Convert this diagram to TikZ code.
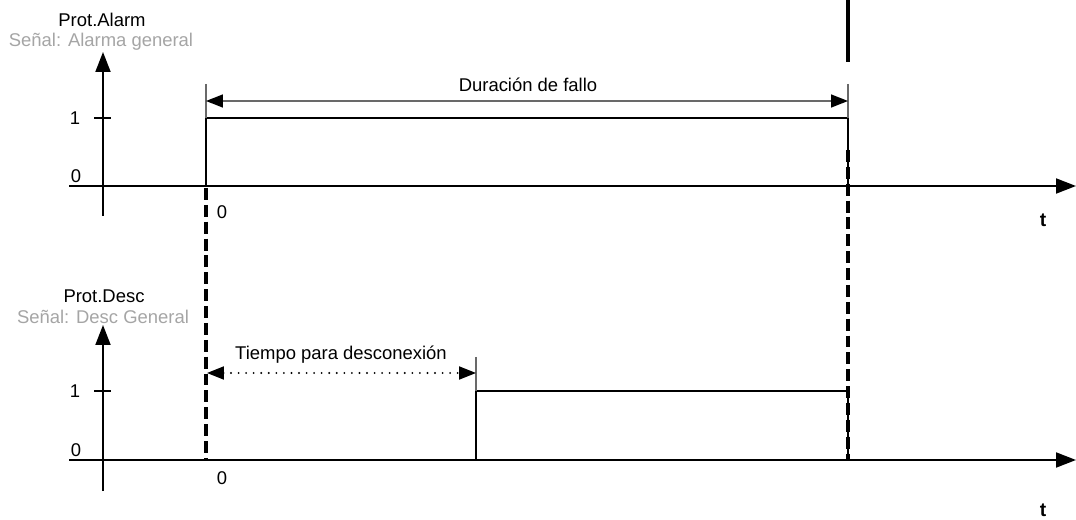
\documentclass[tikz,border=0pt]{standalone}
\usepackage{fontspec}
\setmainfont{Liberation Sans}
\usetikzlibrary{arrows.meta}
\definecolor{subgray}{RGB}{165,165,165}
\definecolor{dimgray}{RGB}{105,105,105}
\tikzset{
  axis/.style={black, line width=1.1pt, -{Triangle[length=4mm,width=3mm]}},
  signal/.style={black, line width=1.1pt},
  tickmark/.style={black, line width=1.1pt},
  marker/.style={black, line width=2pt, dash pattern=on 6.8pt off 2.8pt},
  bar/.style={black, line width=2.8pt},
  extline/.style={dimgray, line width=0.6pt},
  dimline/.style={dimgray, line width=0.9pt,
    {Triangle[length=3.4mm,width=2.6mm,color=black]}-{Triangle[length=3.4mm,width=2.6mm,color=black]}},
  dotline/.style={black, line width=1.2pt, line cap=round, dash pattern=on 0pt off 4.3pt,
    {Triangle[length=3.4mm,width=2.6mm,color=black]}-{Triangle[length=3.4mm,width=2.6mm,color=black]}},
  lab/.style={font=\fontsize{10.5}{12.6}\selectfont, inner sep=0pt},
  sublab/.style={lab, text=subgray},
  tlab/.style={font=\fontsize{11}{13}\selectfont\bfseries, inner sep=0pt},
}

\begin{document}
\begin{tikzpicture}[x=0.02cm,y=-0.02cm]
  \path[use as bounding box] (0,0) rectangle (1076,520);

  % Top panel: Prot.Alarm.
  \node[lab] (alarmtitle) at (102,20) {Prot.Alarm};
  \node[sublab] (alarmsub) at (101,42) {Señal: Alarma general};
  \coordinate (ayb) at (103,216);
  \coordinate (ayt) at (103,52);
  \coordinate (axl) at (69,186);
  \coordinate (axr) at (1076,186);
  \draw[axis] (ayb) -- (ayt);
  \draw[axis] (axl) -- (axr);
  \coordinate (atl) at (94,118);
  \coordinate (atr) at (111,118);
  \draw[tickmark] (atl) -- (atr);
  \node[lab] (aone) at (75,118) {1};
  \node[lab] (azero) at (76,176) {0};
  \node[lab] (aorig) at (222,212) {0};
  \node[tlab] (at) at (1043,220) {t};

  \coordinate (as0) at (206,186);
  \coordinate (as1) at (206,118);
  \coordinate (as2) at (848,118);
  \coordinate (as3) at (848,186);
  \draw[signal] (as0) -- (as1) -- (as2) -- (as3);

  \coordinate (ae1) at (206,84);
  \coordinate (ae2) at (848,84);
  \draw[extline] (ae1) -- (as1);
  \draw[extline] (ae2) -- (as2);
  \coordinate (ad1) at (206,101);
  \coordinate (ad2) at (848,101);
  \draw[dimline] (ad1) -- (ad2);
  \node[lab] (faultlab) at (528,85) {Duración de fallo};

  \coordinate (bar1) at (848,0);
  \coordinate (bar2) at (848,62);
  \draw[bar] (bar1) -- (bar2);

  % Bottom panel: Prot.Desc.
  \node[lab] (desctitle) at (104,296) {Prot.Desc};
  \node[sublab] (descsub) at (103,317) {Señal: Desc General};
  \coordinate (dyb) at (103,491);
  \coordinate (dyt) at (103,325);
  \coordinate (dxl) at (69,460);
  \coordinate (dxr) at (1076,460);
  \draw[axis] (dyb) -- (dyt);
  \draw[axis] (dxl) -- (dxr);
  \coordinate (dtl) at (94,391);
  \coordinate (dtr) at (111,391);
  \draw[tickmark] (dtl) -- (dtr);
  \node[lab] (done) at (75,391) {1};
  \node[lab] (dzero) at (76,450) {0};
  \node[lab] (dorig) at (222,478) {0};
  \node[tlab] (dt) at (1043,510) {t};

  \coordinate (ds0) at (476,460);
  \coordinate (ds1) at (476,391);
  \coordinate (ds2) at (848,391);
  \coordinate (ds3) at (848,460);
  \draw[signal] (ds0) -- (ds1) -- (ds2) -- (ds3);

  \coordinate (de1) at (476,357);
  \draw[extline] (de1) -- (ds1);
  \coordinate (dd1) at (207,373);
  \coordinate (dd2) at (476,373);
  \draw[dotline] (dd1) -- (dd2);
  \node[lab] (triplab) at (341,355) {Tiempo para desconexión};

  % Event markers.
  \coordinate (m1t) at (206,188);
  \coordinate (m1b) at (206,460);
  \coordinate (m2t) at (848,150);
  \coordinate (m2b) at (848,460);
  \draw[marker] (m1t) -- (m1b);
  \draw[marker] (m2t) -- (m2b);
\end{tikzpicture}
\end{document}
